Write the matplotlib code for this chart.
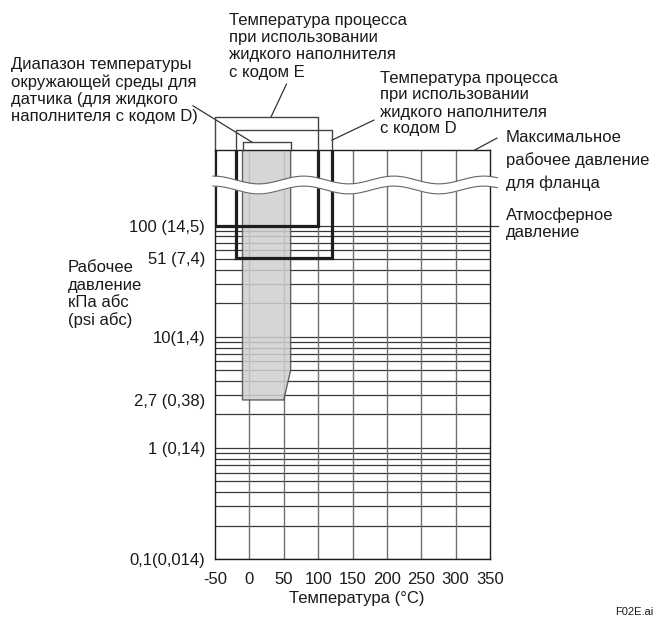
import numpy as np
import matplotlib
matplotlib.use("Agg")
import matplotlib.pyplot as plt
from matplotlib.transforms import blended_transform_factory

plt.rcParams['font.family'] = ['Liberation Sans', 'DejaVu Sans']

# ---------------- data ----------------
x_ticks = [-50, 0, 50, 100, 150, 200, 250, 300, 350]
y_ticks = [0.1, 1, 2.7, 10, 51, 100]
y_tick_labels = ['0,1(0,014)', '1 (0,14)', '2,7 (0,38)', '10(1,4)', '51 (7,4)', '100 (14,5)']

ambient_T = [-10, 60]          # ambient temperature range (fill code D)
ambient_knee_T = 50            # slanted corner
ambient_knee_P = 5
ambient_Pmin = 2.7

code_E_T = [-50, 100]          # process temperature, fill code E
code_E_Pmin = 100
code_D_T = [-20, 120]          # process temperature, fill code D
code_D_Pmin = 51
atm_P = 100

P_MIN, P_TOP = 0.1, 480
T_MIN, T_MAX = -50, 350

# ---------------- figure ----------------
W, H = 656, 619
fig = plt.figure(figsize=(W / 100, H / 100), dpi=100)
ax = fig.add_axes([215 / W, (H - 559) / H, 275 / W, 409 / H])
ax.set_yscale('log')
ax.set_xlim(T_MIN, T_MAX)
ax.set_ylim(P_MIN, P_TOP)
bt = blended_transform_factory(ax.transData, ax.transAxes)

dark = '#1e1e1e'
txt = '#1a1a1a'

# grid
levels = []
for dec in [0.1, 1, 10]:
    levels += [dec * k for k in range(1, 10)]
levels.append(100)
ax.hlines(levels, T_MIN, T_MAX, colors='#383838', lw=0.9, zorder=1)
ax.vlines(x_ticks[1:-1], P_MIN, P_TOP, colors='#707070', lw=1.0, zorder=1)

# ambient area (grey)
gx = [ambient_T[0], ambient_T[0], ambient_knee_T, ambient_T[1], ambient_T[1]]
gy = [P_TOP, ambient_Pmin, ambient_Pmin, ambient_knee_P, P_TOP]
ax.fill(gx, gy, facecolor='#cfcfd2', edgecolor='#4a4a4a', lw=1.0, alpha=0.85, zorder=2)

# thick frames
lw_thick = 2.3
ax.plot([code_E_T[0], code_E_T[0], code_E_T[1], code_E_T[1]],
        [P_TOP, code_E_Pmin, code_E_Pmin, P_TOP], color=dark, lw=lw_thick,
        zorder=4, solid_joinstyle='miter')
ax.plot([code_D_T[0], code_D_T[0], code_D_T[1], code_D_T[1]],
        [P_TOP, code_D_Pmin, code_D_Pmin, P_TOP], color=dark, lw=lw_thick,
        zorder=4, solid_joinstyle='miter')

# atmospheric pressure leader
ax.plot([T_MAX, T_MAX + 12], [atm_P, atm_P], color='#333333', lw=0.9, clip_on=False)

# brackets above the plot
def bracket(t0, t1, yf):
    ax.plot([t0, t0, t1, t1], [1.0, yf, yf, 1.0], transform=bt, color='#444444',
            lw=1.0, clip_on=False, zorder=3)

bracket(code_E_T[0], code_E_T[1], 1.081)
bracket(code_D_T[0], code_D_T[1], 1.049)
bracket(ambient_T[0], ambient_T[1], 1.019)

# leaders
def leader(x0, y0, x1, y1):
    ax.plot([x0, x1], [y0, y1], transform=bt, color='#333333', lw=0.9, clip_on=False)

leader(31.5, 1.081, 54, 1.161)
leader(code_D_T[1], 1.024, 181, 1.073)
leader(4, 1.019, -82, 1.108)
leader(328, 1.0, 360, 1.029)

# wavy break
Tw = np.linspace(-53, 361, 500)
up = 0.9267 + 0.0095 * np.cos(2 * np.pi * (Tw + 52) / 131)
lo = up - 0.0245
ax.fill_between(Tw, lo, up, transform=bt, color='white', lw=0, zorder=6, clip_on=False)
ax.plot(Tw, up, transform=bt, color='#666666', lw=0.8, zorder=7, clip_on=False)
ax.plot(Tw, lo, transform=bt, color='#666666', lw=0.8, zorder=7, clip_on=False)

# axes styling
for s in ax.spines.values():
    s.set_color(dark)
    s.set_linewidth(1.0)
ax.set_xticks(x_ticks)
ax.set_xticklabels([str(v) for v in x_ticks])
ax.set_yticks(y_ticks)
ax.set_yticklabels(y_tick_labels)
ax.yaxis.set_minor_locator(matplotlib.ticker.NullLocator())
ax.tick_params(length=0, labelsize=12, colors=txt)
ax.tick_params(axis='y', pad=7)
ax.tick_params(axis='x', pad=9)

# texts
def ftext(x, y, s, size=12, **kw):
    fig.text(x / W, 1 - y / H, s, fontsize=size, color=txt, va='center', **kw)

for i, s in enumerate(['Температура процесса', 'при использовании',
                       'жидкого наполнителя', 'с кодом E']):
    ftext(229, 20 + 17.5 * i, s)
for i, s in enumerate(['Температура процесса', 'при использовании',
                       'жидкого наполнителя', 'с кодом D']):
    ftext(380, 78 + 17 * i, s)
for i, s in enumerate(['Диапазон температуры', 'окружающей среды для',
                       'датчика (для жидкого', 'наполнителя с кодом D)']):
    ftext(11, 65 + 17.2 * i, s)
for i, s in enumerate(['Максимальное', 'рабочее давление', 'для фланца']):
    ftext(506, 137 + 23 * i, s)
for i, s in enumerate(['Атмосферное', 'давление']):
    ftext(506, 215 + 17.5 * i, s)
for i, s in enumerate(['Рабочее', 'давление', 'кПа абс', '(psi абс)']):
    ftext(68, 268 + 17.3 * i, s)
ftext(357, 598, 'Температура (°C)', ha='center')
ftext(615, 612, 'F02E.ai', size=8)

fig.savefig('out.png', dpi=100)
